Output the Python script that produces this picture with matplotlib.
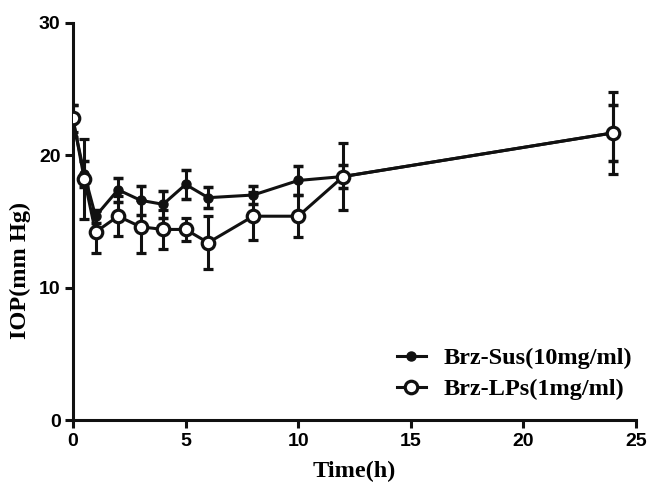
import matplotlib.pyplot as plt
from matplotlib.lines import Line2D

time_h = [0, 0.5, 1, 2, 3, 4, 5, 6, 8, 10, 12, 24]

sus_mean = [22.6, 18.6, 15.4, 17.4, 16.6, 16.3, 17.8, 16.8, 17.0, 18.1, 18.4, 21.7]
sus_sd = [1.2, 1.0, 0.5, 0.9, 1.1, 1.0, 1.1, 0.8, 0.7, 1.1, 0.9, 2.1]

lps_mean = [22.8, 18.2, 14.2, 15.4, 14.6, 14.4, 14.4, 13.4, 15.4, 15.4, 18.4, 21.7]
lps_sd = [1.0, 3.0, 1.6, 1.5, 2.0, 1.5, 0.9, 2.0, 1.8, 1.6, 2.5, 3.1]

labels = ["Brz-Sus(10mg/ml)", "Brz-LPs(1mg/ml)"]
ink = "#111111"

fig = plt.figure(figsize=(6.48, 4.84), dpi=100)
ax = fig.add_axes([0.1127, 0.1322, 0.8688, 0.8203])

sus_style = dict(color=ink, lw=2.2, marker="o", ms=6.5, mfc=ink, mec=ink)
lps_style = dict(color=ink, lw=2.2, marker="o", ms=9, mfc="white", mec=ink, mew=2.3)

ax.errorbar(time_h, sus_mean, yerr=sus_sd, elinewidth=2.2, capsize=3.8,
            capthick=2.5, zorder=3, **sus_style)
ax.errorbar(time_h, lps_mean, yerr=lps_sd, elinewidth=2.2, capsize=3.8,
            capthick=2.5, zorder=4, **lps_style)

ax.set_xlim(0, 25)
ax.set_ylim(0, 30)
ax.set_xticks([0, 5, 10, 15, 20, 25])
ax.set_yticks([0, 10, 20, 30])

for s in ["top", "right"]:
    ax.spines[s].set_visible(False)
for s in ["left", "bottom"]:
    ax.spines[s].set_linewidth(2.2)
    ax.spines[s].set_color(ink)
ax.tick_params(direction="out", length=6, width=2.2, color=ink, pad=3)
for lab in ax.get_xticklabels() + ax.get_yticklabels():
    lab.set_family("Liberation Sans")
    lab.set_fontweight("bold")
    lab.set_fontsize(14)

ax.set_xlabel("Time(h)", family="Liberation Serif", fontweight="bold",
              fontsize=17.5, labelpad=8)
ax.set_ylabel("IOP(mm Hg)", family="Liberation Serif", fontweight="bold",
              fontsize=17.5)
ax.yaxis.set_label_coords(-0.075, 0.378)

handles = [Line2D([], [], **sus_style), Line2D([], [], **lps_style)]
fig.legend(handles, labels, loc="upper left", bbox_to_anchor=(0.612, 0.283),
           bbox_transform=fig.transFigure, frameon=False, borderpad=0,
           borderaxespad=0,
           prop={"family": "Liberation Serif", "weight": "bold", "size": 17.5},
           handlelength=1.2, handletextpad=0.75, labelspacing=0.38)

fig.savefig("out.png", dpi=100)
